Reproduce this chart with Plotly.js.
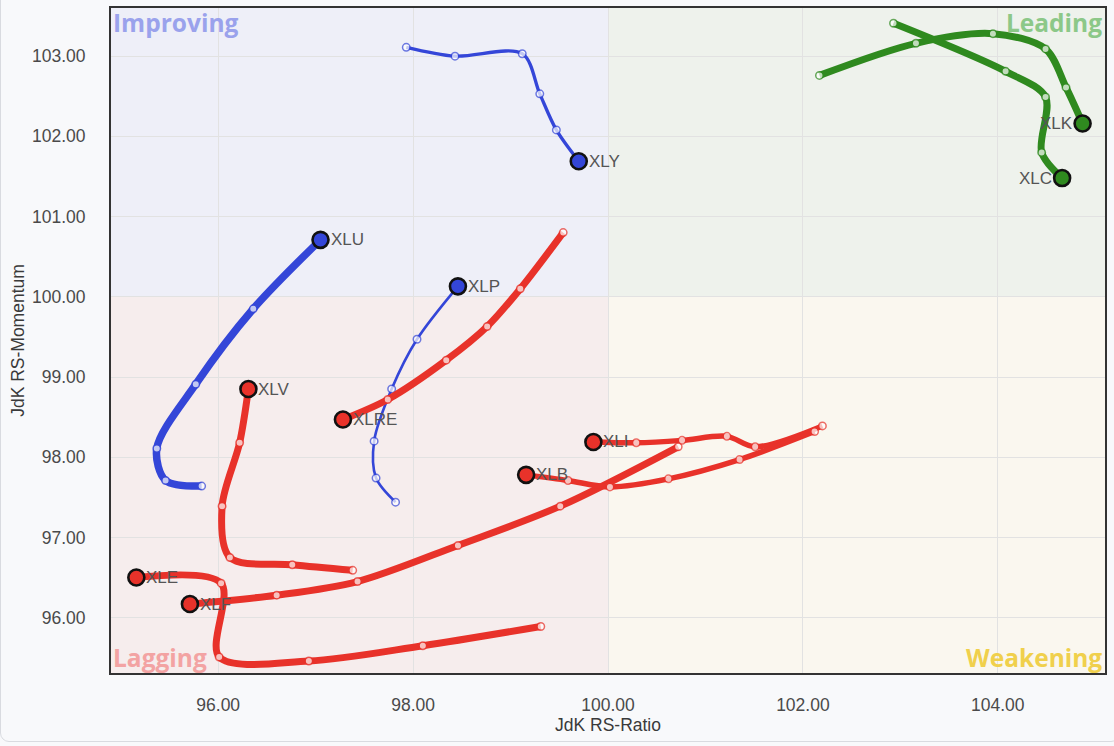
<!DOCTYPE html>
<html>
<head>
<meta charset="utf-8">
<script src="https://cdn.plot.ly/plotly-3.0.1.min.js"></script>
<style>
  html, body { margin: 0; padding: 0; background: #f8f9fb; overflow: hidden; }
  #wrap { position: relative; width: 1114px; height: 746px; }
  #chart { width: 1114px; height: 746px; }
  #card { position: absolute; left: 0; top: -12px; width: 1120px; height: 754px; box-sizing: border-box;
          border: 1px solid #d9dbe0; border-radius: 9px; pointer-events: none; }
</style>
</head>
<body>
<div id="wrap"><div id="chart"></div><div id="card"></div></div>
<script>
// ---- Data (oldest point first, head last) ----
const tickers = ["XLY", "XLK", "XLC", "XLU", "XLP", "XLRE", "XLV", "XLE", "XLF", "XLI", "XLB"];

const xly_x = [97.93, 98.43, 99.12, 99.30, 99.47, 99.70];
const xly_y = [103.11, 103.00, 103.03, 102.53, 102.08, 101.69];

const xlk_x = [102.17, 103.16, 103.95, 104.49, 104.70, 104.87];
const xlk_y = [102.76, 103.16, 103.28, 103.09, 102.61, 102.16];

const xlc_x = [102.93, 104.08, 104.49, 104.45, 104.66];
const xlc_y = [103.41, 102.81, 102.49, 101.80, 101.48];

const xlu_x = [95.83, 95.46, 95.37, 95.77, 96.36, 97.05];
const xlu_y = [97.64, 97.71, 98.11, 98.91, 99.85, 100.71];

const xlp_x = [97.82, 97.62, 97.60, 97.78, 98.04, 98.46];
const xlp_y = [97.44, 97.74, 98.20, 98.85, 99.47, 100.13];

const xlre_x = [99.54, 99.10, 98.76, 98.34, 97.74, 97.28];
const xlre_y = [100.80, 100.10, 99.63, 99.21, 98.72, 98.47];

const xlv_x = [97.38, 96.76, 96.12, 96.04, 96.22, 96.31];
const xlv_y = [96.59, 96.66, 96.75, 97.39, 98.18, 98.85];

const xle_x = [99.31, 98.10, 96.93, 96.01, 96.03, 95.16];
const xle_y = [95.89, 95.65, 95.46, 95.51, 96.43, 96.50];

const xlf_x = [100.72, 99.51, 98.46, 97.43, 96.60, 95.71];
const xlf_y = [98.13, 97.39, 96.90, 96.45, 96.28, 96.17];

const xli_x = [102.20, 101.51, 101.22, 100.76, 100.29, 99.85];
const xli_y = [98.39, 98.13, 98.26, 98.21, 98.18, 98.19];

const xlb_x = [102.12, 101.35, 100.62, 100.02, 99.59, 99.16];
const xlb_y = [98.32, 97.97, 97.73, 97.63, 97.71, 97.78];

const xTicks = [96, 98, 100, 102, 104];
const yTicks = [96, 97, 98, 99, 100, 101, 102, 103];
const quadrantNames = ["Improving", "Leading", "Lagging", "Weakening"];
const xTitle = "JdK RS-Ratio";
const yTitle = "JdK RS-Momentum";

// ---- Styles ----
const BLUE = "#3446d8", RED = "#e8322a", GREEN = "#2f8a1f";
const FONT = "Liberation Sans, Arial, sans-serif";
const series = [
  {name: "XLY", x: xly_x, y: xly_y, c: BLUE, w: 3.3, left: false},
  {name: "XLU", x: xlu_x, y: xlu_y, c: BLUE, w: 7.5, left: false},
  {name: "XLP", x: xlp_x, y: xlp_y, c: BLUE, w: 2.6, left: false},
  {name: "XLRE", x: xlre_x, y: xlre_y, c: RED, w: 7, left: false},
  {name: "XLV", x: xlv_x, y: xlv_y, c: RED, w: 7, left: false},
  {name: "XLF", x: xlf_x, y: xlf_y, c: RED, w: 7, left: false},
  {name: "XLE", x: xle_x, y: xle_y, c: RED, w: 7, left: false},
  {name: "XLI", x: xli_x, y: xli_y, c: RED, w: 5.5, left: false},
  {name: "XLB", x: xlb_x, y: xlb_y, c: RED, w: 5.5, left: false},
  {name: "XLK", x: xlk_x, y: xlk_y, c: GREEN, w: 7, left: true},
  {name: "XLC", x: xlc_x, y: xlc_y, c: GREEN, w: 7, left: true}
];

// tails (lines + small hollow markers)
const tailTraces = series.map(s => {
  const n = s.x.length;
  return {
    type: "scatter", mode: "lines+markers",
    x: s.x, y: s.y, name: s.name,
    line: {color: s.c, width: s.w, shape: "spline", smoothing: 0.9},
    marker: {size: s.x.map((_, i) => i === n - 1 ? 0 : 7.5), color: "#ffffff",
             line: {color: s.c, width: 1.5}},
    hoverinfo: "x+y+name", cliponaxis: false
  };
});

// heads (large filled markers), drawn above all tails
const headTraces = series.map(s => {
  const n = s.x.length;
  return {
    type: "scatter", mode: "markers",
    x: [s.x[n - 1]], y: [s.y[n - 1]], name: s.name,
    marker: {size: 16, color: s.c, line: {color: "#111111", width: 2.6}},
    hoverinfo: "x+y+name", cliponaxis: false
  };
});

const XR = [94.9, 105.1], YR = [95.31, 103.6];

const shapes = [
  {type: "rect", xref: "x", yref: "y", x0: XR[0], x1: 100, y0: 100, y1: YR[1], fillcolor: "#eeeff8", line: {width: 0}, layer: "below"},
  {type: "rect", xref: "x", yref: "y", x0: 100, x1: XR[1], y0: 100, y1: YR[1], fillcolor: "#eef2ec", line: {width: 0}, layer: "below"},
  {type: "rect", xref: "x", yref: "y", x0: XR[0], x1: 100, y0: YR[0], y1: 100, fillcolor: "#f6eded", line: {width: 0}, layer: "below"},
  {type: "rect", xref: "x", yref: "y", x0: 100, x1: XR[1], y0: YR[0], y1: 100, fillcolor: "#faf7ef", line: {width: 0}, layer: "below"},
  {type: "line", xref: "x", yref: "paper", x0: 100, x1: 100, y0: 0, y1: 1, line: {color: "#222222", width: 1.5}, layer: "between"},
  {type: "line", xref: "paper", yref: "y", x0: 0, x1: 1, y0: 100, y1: 100, line: {color: "#222222", width: 1.5}, layer: "between"}
];

const qFont = (c) => ({family: "Open Sans, Liberation Sans, sans-serif", size: 24.5, color: c});
const annotations = [
  {text: "<b>" + quadrantNames[0] + "</b>", xref: "paper", yref: "paper", x: 0, y: 1, xanchor: "left", yanchor: "top", showarrow: false, font: qFont("#9aa2ec"), xshift: 0, yshift: 4},
  {text: "<b>" + quadrantNames[1] + "</b>", xref: "paper", yref: "paper", x: 1, y: 1, xanchor: "right", yanchor: "top", showarrow: false, font: qFont("#8cc888"), xshift: -1, yshift: 4},
  {text: "<b>" + quadrantNames[2] + "</b>", xref: "paper", yref: "paper", x: 0, y: 0, xanchor: "left", yanchor: "bottom", showarrow: false, font: qFont("#f3a3a3"), xshift: 0, yshift: -3},
  {text: "<b>" + quadrantNames[3] + "</b>", xref: "paper", yref: "paper", x: 1, y: 0, xanchor: "right", yanchor: "bottom", showarrow: false, font: qFont("#f0d04c"), xshift: -1, yshift: -3}
];
// ticker labels next to heads, on top of everything
series.forEach(s => {
  const n = s.x.length;
  annotations.push({
    text: s.name, xref: "x", yref: "y", x: s.x[n - 1], y: s.y[n - 1],
    xanchor: s.left ? "right" : "left", yanchor: "middle",
    xshift: s.left ? -8 : 8, yshift: 0, showarrow: false,
    font: {family: FONT, size: 17, color: "#555555"}
  });
});

const layout = {
  width: 1114, height: 746,
  paper_bgcolor: "#f8f9fb",
  plot_bgcolor: "#f8f9fb",
  margin: {l: 111, r: 9, t: 8, b: 73},
  showlegend: false,
  xaxis: {
    range: XR, tickvals: xTicks, tickformat: ".2f",
    showgrid: true, gridcolor: "#e2e2e2", gridwidth: 1, zeroline: false,
    showline: true, mirror: true, linecolor: "#333333", linewidth: 2,
    ticks: "outside", ticklen: 15, tickcolor: "rgba(0,0,0,0)",
    tickfont: {family: FONT, size: 17.5, color: "#4a4a4a"},
    title: {text: xTitle, font: {family: FONT, size: 17.5, color: "#3a3a3a"}, standoff: 2}
  },
  yaxis: {
    range: YR, tickvals: yTicks, tickformat: ".2f",
    showgrid: true, gridcolor: "#e2e2e2", gridwidth: 1, zeroline: false,
    showline: true, mirror: true, linecolor: "#333333", linewidth: 2,
    ticks: "outside", ticklen: 20, tickcolor: "rgba(0,0,0,0)",
    tickfont: {family: FONT, size: 17.5, color: "#4a4a4a"},
    title: {text: yTitle, font: {family: FONT, size: 17.5, color: "#3a3a3a"}, standoff: 3}
  },
  shapes: shapes,
  annotations: annotations
};

Plotly.newPlot("chart", tailTraces.concat(headTraces), layout, {displayModeBar: false, staticPlot: true});
</script>
</body>
</html>
